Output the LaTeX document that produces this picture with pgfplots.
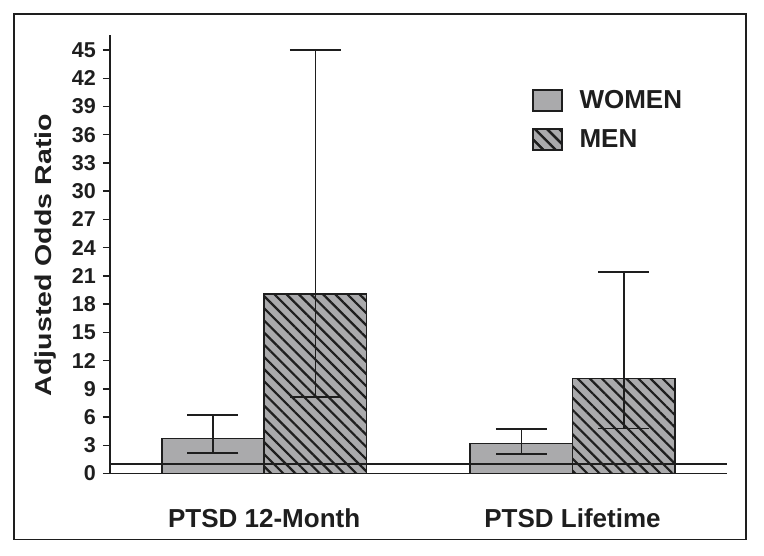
\documentclass[border=0pt]{standalone}
\usepackage{fontspec}
\setmainfont{Liberation Sans}
\usepackage{graphicx}
\usepackage{pgfplots}
\usepackage{pgfplotstable}
\pgfplotsset{compat=1.18}
\usetikzlibrary{patterns.meta}
\definecolor{bargray}{RGB}{170,170,172}
\definecolor{ink}{RGB}{30,30,30}
\newcommand\tk[1]{{\fontsize{21.5}{24}\selectfont\bfseries #1}}

\pgfplotstableread{
x y ep em
0 3.7 2.5 1.5
1 3.2 1.5 1.1
}\women
\pgfplotstableread{
x y ep em
0 19.1 25.9 11.0
1 10.1 11.3 5.3
}\men

\begin{document}
\begin{tikzpicture}[x=1pt,y=1pt]
\useasboundingbox (0,0) rectangle (764,555);
\draw[ink, line width=1.5pt] (14,15.7) rectangle (746,541);
\begin{axis}[
  at={(110pt,81.5pt)}, anchor=south west, scale only axis,
  width=616.7pt, height=438.5pt,
  ybar, bar width=0.332,
  xmin=-0.5, xmax=1.5, ymin=0, ymax=46.6,
  axis x line*=bottom, axis y line*=left,
  axis line style={ink, line width=1.5pt, -},
  ytick={0,3,6,9,12,15,18,21,24,27,30,33,36,39,42,45},
  yticklabels={\tk{0},\tk{3},\tk{6},\tk{9},\tk{12},\tk{15},\tk{18},\tk{21},\tk{24},\tk{27},\tk{30},\tk{33},\tk{36},\tk{39},\tk{42},\tk{45}},
  xtick={0,1}, xticklabels={PTSD 12-Month, PTSD Lifetime},
  x tick style={draw=none},
  y tick style={ink, line width=1.5pt},
  tick align=outside, major tick length=7pt,
  y tick label style={font=\fontsize{21.5}{24}\selectfont\bfseries, inner sep=0pt, xshift=-7pt, text=ink, anchor=east},
  xticklabel style={font=\fontsize{26}{30}\selectfont\bfseries, inner sep=0pt, anchor=north, yshift=-28pt, text=ink},
  ylabel={\scalebox{1.24}[1]{Adjusted Odds Ratio}},
  ylabel style={font=\fontsize{23}{26}\selectfont\bfseries, at={(axis description cs:-0.1038,0.498)}, anchor=center, text=ink},
  clip=false,
  legend cell align=left,
  legend style={at={(axis description cs:0.6838,0.877)}, anchor=north west, draw=none, fill=none, inner sep=0pt, row sep=16.5pt,
    nodes={inner sep=0pt, font=\fontsize{26}{30}\selectfont\bfseries, text=ink},
    /tikz/every odd column/.append style={column sep=17pt}},
]
\addplot[bar shift=-0.166, fill=bargray, draw=ink, line width=1.6pt,
  legend image code/.code={\draw[fill=bargray, draw=ink, line width=1.6pt] (0pt,-10.5pt) rectangle (29pt,10.5pt);},
  error bars/.cd, y dir=both, y explicit, error mark=|,
  error bar style={ink, line width=1.6pt},
  error mark options={ink, line width=1.6pt, mark size=25.5pt}]
  table[x=x, y=y, y error plus=ep, y error minus=em] {\women};
\addlegendentry{WOMEN}
\addplot[bar shift=0.166, fill=bargray, draw=ink, line width=1.6pt,
  postaction={pattern={Lines[angle=-45,distance=8.6pt,line width=2.2pt]}, pattern color=ink},
  legend image code/.code={\draw[fill=bargray, draw=ink, line width=1.6pt, postaction={pattern={Lines[angle=-45,distance=8.6pt,line width=2.2pt]}, pattern color=ink}] (0pt,-10.5pt) rectangle (29pt,10.5pt);},
  error bars/.cd, y dir=both, y explicit, error mark=|,
  error bar style={ink, line width=1.6pt},
  error mark options={ink, line width=1.6pt, mark size=25.5pt}]
  table[x=x, y=y, y error plus=ep, y error minus=em] {\men};
\addlegendentry{MEN}
\addplot[sharp plot, ink, line width=1.3pt, forget plot] coordinates {(-0.5,1) (1.5,1)};
\end{axis}
\end{tikzpicture}
\end{document}
